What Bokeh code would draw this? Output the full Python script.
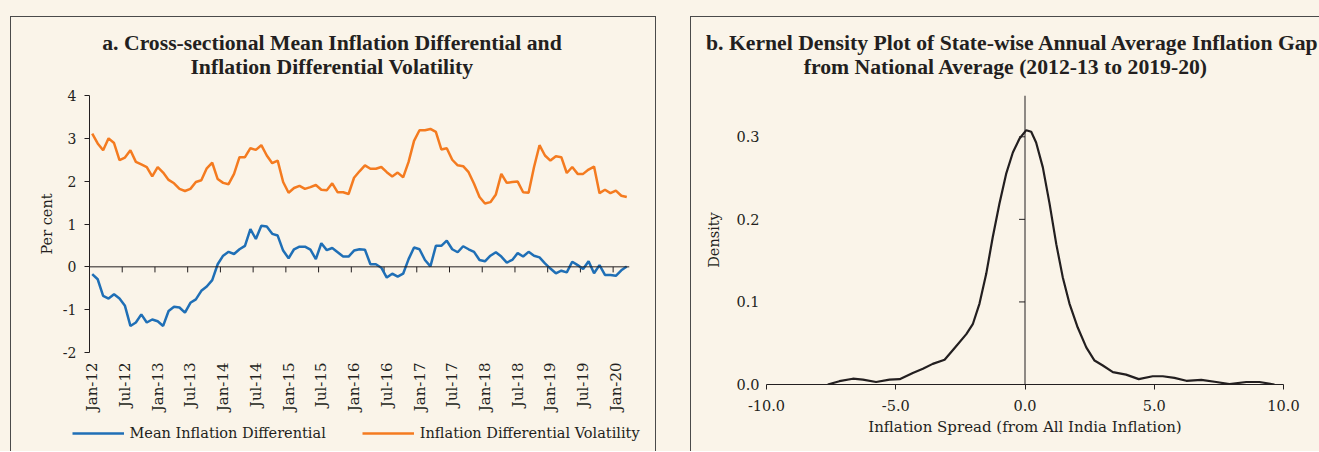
import math
from bokeh.plotting import figure
from bokeh.models import (Range1d, FixedTicker, Span, Legend, LegendItem, Label, PrintfTickFormatter, Spacer)
from bokeh.layouts import row, column
from bokeh.embed import file_html
from bokeh.resources import INLINE

# ---------------- data ----------------
month_tick_labels = ["Jan-12", "Jul-12", "Jan-13", "Jul-13", "Jan-14", "Jul-14", "Jan-15", "Jul-15",
                     "Jan-16", "Jul-16", "Jan-17", "Jul-17", "Jan-18", "Jul-18", "Jan-19", "Jul-19", "Jan-20"]

# monthly, Jan-12 .. Mar-20
mean_diff = [-0.17, -0.29, -0.68, -0.74, -0.64, -0.74, -0.91, -1.38, -1.30, -1.11,
             -1.30, -1.23, -1.27, -1.38, -1.03, -0.93, -0.95, -1.07, -0.84, -0.76,
             -0.56, -0.46, -0.31, 0.06, 0.26, 0.35, 0.30, 0.41, 0.49, 0.88,
             0.65, 0.96, 0.94, 0.77, 0.73, 0.38, 0.20, 0.41, 0.47, 0.47,
             0.40, 0.18, 0.55, 0.39, 0.44, 0.34, 0.24, 0.24, 0.38, 0.41,
             0.40, 0.06, 0.06, -0.02, -0.25, -0.16, -0.23, -0.16, 0.18, 0.45,
             0.41, 0.16, 0.01, 0.49, 0.49, 0.61, 0.41, 0.34, 0.48, 0.41,
             0.35, 0.16, 0.13, 0.26, 0.34, 0.24, 0.10, 0.16, 0.32, 0.24,
             0.35, 0.26, 0.22, 0.08, -0.04, -0.15, -0.09, -0.13, 0.12, 0.04,
             -0.05, 0.13, -0.15, 0.04, -0.19, -0.19, -0.21, -0.08, 0.01]

volatility = [3.11, 2.88, 2.72, 3.00, 2.89, 2.49, 2.55, 2.72, 2.45, 2.39,
              2.33, 2.11, 2.33, 2.20, 2.03, 1.95, 1.82, 1.77, 1.82, 1.98,
              2.02, 2.30, 2.43, 2.05, 1.96, 1.93, 2.17, 2.56, 2.56, 2.77,
              2.73, 2.84, 2.60, 2.42, 2.48, 1.98, 1.73, 1.84, 1.89, 1.82,
              1.86, 1.91, 1.80, 1.79, 1.95, 1.74, 1.74, 1.70, 2.08, 2.23,
              2.37, 2.29, 2.29, 2.33, 2.21, 2.11, 2.20, 2.09, 2.45, 2.94,
              3.19, 3.19, 3.22, 3.15, 2.74, 2.77, 2.50, 2.37, 2.35, 2.21,
              1.94, 1.63, 1.48, 1.51, 1.69, 2.17, 1.96, 1.98, 1.99, 1.74,
              1.73, 2.33, 2.84, 2.60, 2.48, 2.58, 2.56, 2.19, 2.33, 2.17,
              2.17, 2.27, 2.34, 1.72, 1.80, 1.72, 1.78, 1.66, 1.63]

left_y_ticks = [-2, -1, 0, 1, 2, 3, 4]

kde_x = [-7.63, -7.18, -6.66, -6.27, -5.76, -5.24, -4.85, -4.34, -3.95, -3.57,
         -3.11, -2.73, -2.27, -2.02, -1.76, -1.50, -1.25, -0.99, -0.73, -0.47,
         -0.21, 0.05, 0.24, 0.43, 0.69, 0.95, 1.21, 1.46, 1.72, 2.04,
         2.37, 2.69, 3.01, 3.40, 3.91, 4.40, 4.94, 5.33, 5.78, 6.24,
         6.82, 7.40, 7.91, 8.56, 9.07, 9.65]
kde_y = [0.000, 0.004, 0.007, 0.006, 0.003, 0.006, 0.0065, 0.014, 0.019, 0.025,
         0.030, 0.044, 0.061, 0.073, 0.098, 0.134, 0.178, 0.219, 0.255, 0.281,
         0.298, 0.308, 0.306, 0.293, 0.263, 0.219, 0.170, 0.130, 0.098, 0.069,
         0.045, 0.029, 0.023, 0.015, 0.012, 0.0065, 0.010, 0.010, 0.008, 0.0045,
         0.0056, 0.003, 0.0004, 0.003, 0.003, 0.000]

density_ticks = [0.0, 0.1, 0.2, 0.3]
spread_ticks = [-10.0, -5.0, 0.0, 5.0, 10.0]

title_a = ["a. Cross-sectional Mean Inflation Differential and", "Inflation Differential Volatility"]
title_b = ["b. Kernel Density Plot of State-wise Annual Average Inflation Gap",
           "from National Average (2012-13 to 2019-20)"]

# ---------------- style ----------------
BG = "#FAF4E9"
INK = "#231F20"
BLUE = "#1F6FB6"
ORANGE = "#F47B20"
SERIF = "DejaVu Serif"
TITLE_FONT = "Liberation Serif"
LINE = "#4A4A4A"
FIG_H = 434      # inner height of each bordered panel
TITLE_H = 70     # title strip height
LEG_H = 34       # legend strip height
W_A = 644
W_B = 628


def strip(width, height):
    s = figure(width=width, height=height, x_range=Range1d(0, width), y_range=Range1d(0, height),
               output_backend="svg", toolbar_location=None, title=None,
               x_axis_location=None, y_axis_location=None, frame_align=False,
               min_border_left=0, min_border_right=0, min_border_top=0, min_border_bottom=0,
               background_fill_color=BG, border_fill_color=BG, outline_line_color=None)
    s.grid.visible = False
    return s


def title_label(x, y, text, align):
    return Label(x=x, y=y, text=text, text_align=align, text_baseline="alphabetic",
                 text_font=TITLE_FONT, text_font_style="bold", text_font_size="21.7px", text_color=INK)


def style_axis(ax, size="14px", label_size="14px"):
    ax.minor_tick_line_color = None
    ax.major_tick_in = 0
    ax.major_label_text_font = SERIF
    ax.major_label_text_font_size = size
    ax.major_label_text_color = INK
    ax.axis_label_text_font = SERIF
    ax.axis_label_text_font_size = label_size
    ax.axis_label_text_font_style = "normal"
    ax.axis_label_text_color = INK


idx = list(range(len(mean_diff)))
tick_pos = [6 * k for k in range(len(month_tick_labels))]

# ---------------- panel a ----------------
ta = strip(W_A, TITLE_H)
ta.add_layout(title_label(320.5, 45, title_a[0], "center"))
ta.add_layout(title_label(320.5, 21, title_a[1], "center"))

P1_H = FIG_H - TITLE_H - LEG_H
p1 = figure(width=W_A, height=P1_H, x_range=Range1d(-0.5, len(mean_diff) - 0.5), y_range=Range1d(-2, 4),
            output_backend="svg", toolbar_location=None, title=None, frame_align=False,
            min_border_left=78, min_border_right=26, min_border_top=8, min_border_bottom=65,
            background_fill_color=BG, border_fill_color=BG, outline_line_color=None)
p1.grid.visible = False

p1.add_layout(Span(location=0, dimension="width", line_color=INK, line_width=1))
bounds = [t - 0.5 for t in tick_pos[1:]]
p1.segment(x0=bounds, y0=[0] * len(bounds), x1=bounds, y1=[-0.13] * len(bounds), line_color=INK, line_width=1)

p1.line(idx, mean_diff, line_color=BLUE, line_width=2.5)
p1.line(idx, volatility, line_color=ORANGE, line_width=2.5)

ya = p1.yaxis[0]
style_axis(ya, "14px", "14.5px")
ya.ticker = FixedTicker(ticks=left_y_ticks)
ya.formatter = PrintfTickFormatter(format="%d")
ya.axis_line_color = INK
ya.major_tick_line_color = INK
ya.major_tick_out = 5
ya.major_label_standoff = 8
ya.axis_label = "Per cent"
ya.axis_label_standoff = 5

xa = p1.xaxis[0]
style_axis(xa, "15px")
xa.ticker = FixedTicker(ticks=tick_pos)
xa.major_label_overrides = {t: lab for t, lab in zip(tick_pos, month_tick_labels)}
xa.major_label_orientation = math.pi / 2
xa.axis_line_color = None
xa.major_tick_line_color = None
xa.major_tick_out = 0
xa.major_label_standoff = 10

# legend strip under panel a: its sample lines come from the same series, kept outside the strip's view
la = strip(W_A, LEG_H)
la.y_range = Range1d(100, 101)
lr_mean = la.line(idx, mean_diff, line_color=BLUE, line_width=2.5)
lr_vol = la.line(idx, volatility, line_color=ORANGE, line_width=2.5)
legend = Legend(items=[LegendItem(label="Mean Inflation Differential", renderers=[lr_mean]),
                       LegendItem(label="Inflation Differential Volatility", renderers=[lr_vol])],
                orientation="horizontal", location=(60.5, 10), glyph_width=52, glyph_height=16,
                label_standoff=6, spacing=36, label_text_font=SERIF, label_text_font_size="14.5px",
                label_text_color=INK, border_line_color=None, background_fill_alpha=0,
                padding=0, margin=0)
la.add_layout(legend)

# ---------------- panel b ----------------
tb = strip(W_B, TITLE_H)
tb.add_layout(title_label(14.5, 45, title_b[0], "left"))
tb.add_layout(title_label(314.5, 21, title_b[1], "center"))

P2_H = FIG_H - TITLE_H
p2 = figure(width=W_B, height=P2_H, x_range=Range1d(-10, 10), y_range=Range1d(0, 0.35),
            output_backend="svg", toolbar_location=None, title=None, frame_align=False,
            min_border_left=75, min_border_right=36, min_border_top=8, min_border_bottom=67,
            background_fill_color=BG, border_fill_color=BG, outline_line_color=None)
p2.grid.visible = False

p2.add_layout(Span(location=0, dimension="height", line_color=INK, line_width=1))
p2.segment(x0=[-0.23] * len(density_ticks), y0=density_ticks, x1=[0] * len(density_ticks), y1=density_ticks,
           line_color=INK, line_width=1)
p2.line(kde_x, kde_y, line_color=INK, line_width=2.2)

xb = p2.xaxis[0]
style_axis(xb, "14.5px", "15px")
xb.ticker = FixedTicker(ticks=spread_ticks)
xb.formatter = PrintfTickFormatter(format="%.1f")
xb.axis_line_color = INK
xb.major_tick_line_color = INK
xb.major_tick_out = 5
xb.major_label_standoff = 10
xb.axis_label = "Inflation Spread (from All India Inflation)"
xb.axis_label_standoff = 4

yb = p2.yaxis[0]
style_axis(yb, "14.5px", "14.5px")
yb.ticker = FixedTicker(ticks=density_ticks)
yb.formatter = PrintfTickFormatter(format="%.1f")
yb.axis_line_color = None
yb.major_tick_line_color = None
yb.major_tick_out = 0
yb.major_label_standoff = 7
yb.axis_label = "Density"
yb.axis_label_standoff = 11


# ---------------- panel frames (borders) ----------------
def hline(w):
    return Spacer(width=w, height=1, styles={"background-color": LINE})


def vline(h):
    return Spacer(width=1, height=h, styles={"background-color": LINE})


left = column(Spacer(width=W_A + 2, height=16), hline(W_A + 2),
              row(vline(FIG_H), column(ta, p1, la), vline(FIG_H)))
right = column(Spacer(width=W_B + 1, height=16), hline(W_B + 1),
               row(vline(FIG_H), column(tb, p2)))
layout = row(Spacer(width=10, height=FIG_H + 17), left, Spacer(width=34, height=FIG_H + 17), right,
             styles={"background-color": BG})

open("out.html", "w").write(file_html(layout, INLINE))
